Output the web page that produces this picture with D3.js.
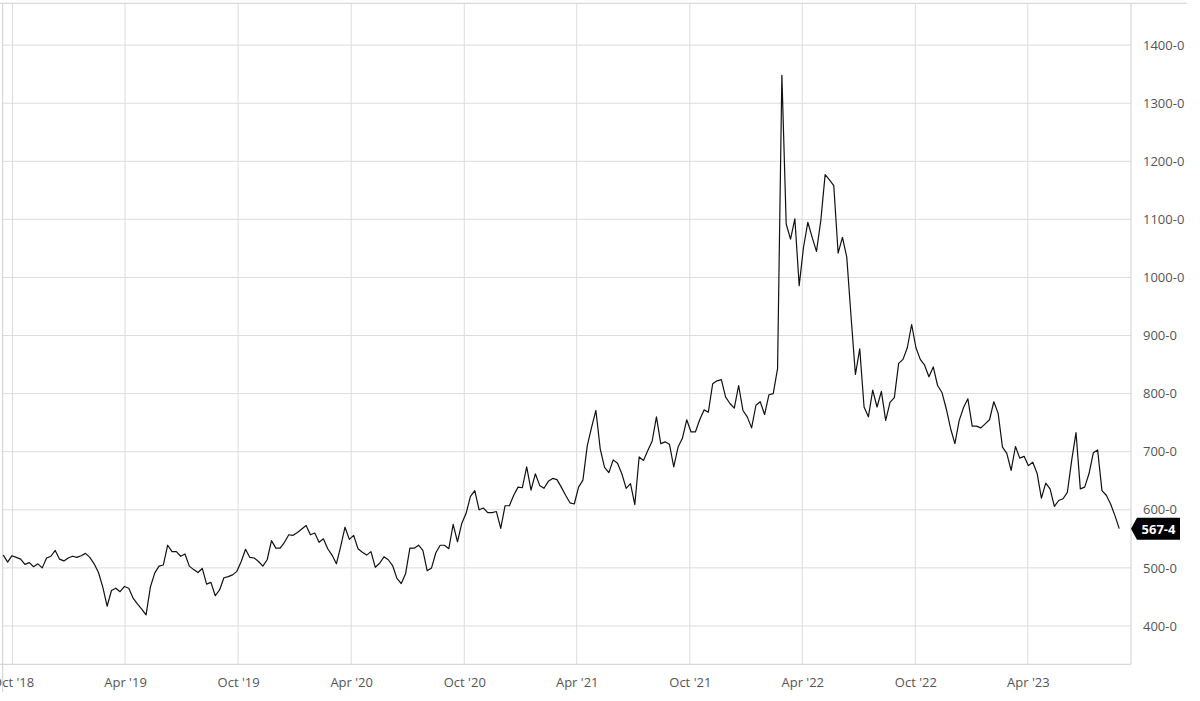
<!DOCTYPE html>
<html><head><meta charset="utf-8">
<script src="https://cdn.jsdelivr.net/npm/d3@7"></script>
<style>
body{margin:0;background:#fff;}
svg{display:block;font-family:"Open Sans",sans-serif;}
</style>
</head><body>
<svg id="chart" width="1200" height="701"></svg>
<script>
// ---- data ----
const firstWeek = "2018-09-16";
const prices = [
522,510,521,518,515,506,509,502,507,500,517,520,530,515,512,517,520,518,521,525,
518,507,492,467,434,461,465,459,468,465,448,438,429,419,467,491,503,505,539,528,
528,520,524,503,497,492,499,472,475,452,462,483,485,488,494,511,532,518,517,511,
503,514,547,534,534,544,557,556,561,567,573,557,560,544,550,533,522,507,537,570,
549,556,533,527,522,528,501,508,519,514,504,482,473,490,534,534,539,530,495,500,
526,539,539,533,575,545,577,594,623,633,600,603,595,595,597,568,607,607,625,639,
638,674,634,662,642,637,649,654,652,639,625,612,610,639,651,710,742,771,705,673,
664,686,680,662,637,645,609,691,685,702,718,760,714,717,713,674,708,723,755,734,
734,755,772,768,817,822,824,794,783,775,814,771,760,741,780,786,764,798,800,843,
1348,1092,1066,1101,986,1052,1095,1069,1045,1098,1177,1168,1158,1042,1069,1035,932,833,877,777,
760,806,777,804,754,785,793,852,859,879,919,879,859,849,829,846,814,802,774,740,
714,754,776,791,744,744,741,748,755,786,766,708,697,668,709,689,692,676,682,663,
620,646,636,606,616,619,630,685,733,636,639,662,698,703,633,625,610,590,567.5
];
const yTicks = [400,500,600,700,800,900,1000,1100,1200,1300,1400];
const xTickDates = ["2018-10-01","2019-04-01","2019-10-01","2020-04-01","2020-10-01",
  "2021-04-01","2021-10-01","2022-04-01","2022-10-01","2023-04-01"];
const xTickLabels = ["Oct '18","Apr '19","Oct '19","Apr '20","Oct '20",
  "Apr '21","Oct '21","Apr '22","Oct '22","Apr '23"];
const lastPriceLabel = "567-4";
const xDomain = ["2018-09-15","2023-09-15"];
const yDomain = [334, 1472];

// ---- layout ----
const parse = d3.utcParse("%Y-%m-%d");
const start = parse(firstWeek);
const series = prices.map((v,i)=>({date:d3.utcDay.offset(start, 7*i), value:v}));

const L = 2.7, R = 1131, T = 3.3, B = 664.3;
const x = d3.scaleUtc().domain(xDomain.map(parse)).range([L, R]);
const y = d3.scaleLinear().domain(yDomain).range([B, T]);

const svg = d3.select("#chart");
const grid = "#dcdcdc";

// horizontal grid
svg.append("g").selectAll("line").data(yTicks).join("line")
  .attr("x1", L).attr("x2", R)
  .attr("y1", d=>y(d)).attr("y2", d=>y(d))
  .attr("stroke", grid).attr("stroke-width", 1);

// vertical grid
const xt = xTickDates.map(parse);
svg.append("g").selectAll("line").data(xt).join("line")
  .attr("x1", d=>x(d)).attr("x2", d=>x(d))
  .attr("y1", T).attr("y2", B)
  .attr("stroke", grid).attr("stroke-width", 1);

// frame
const frame = "#cfcfcf";
svg.append("line").attr("x1",0).attr("x2",1187).attr("y1",T).attr("y2",T).attr("stroke",frame);
svg.append("line").attr("x1",L).attr("x2",L).attr("y1",T).attr("y2",692).attr("stroke",frame);
svg.append("line").attr("x1",R).attr("x2",R).attr("y1",T).attr("y2",B).attr("stroke",frame);
svg.append("line").attr("x1",0).attr("x2",R).attr("y1",B).attr("y2",B).attr("stroke",frame);

// y axis (right) via d3 axis
const yAxis = d3.axisRight(y).tickValues(yTicks).tickSize(0).tickPadding(12)
  .tickFormat(d=>`${d}-0`);
const gy = svg.append("g").attr("transform",`translate(${R},0)`).call(yAxis);
gy.select(".domain").remove();
gy.selectAll("text").attr("fill","#555").style("font-size","13px")
  .style("font-family","'Open Sans',sans-serif");

// x axis
const xAxis = d3.axisBottom(x).tickValues(xt).tickSize(0).tickPadding(13)
  .tickFormat((d,i)=>xTickLabels[i]);
const gx = svg.append("g").attr("transform",`translate(0,${B})`).call(xAxis);
gx.select(".domain").remove();
gx.selectAll("text").attr("fill","#555").style("font-size","13px")
  .style("font-family","'Open Sans',sans-serif");

// price line
const line = d3.line().x(d=>x(d.date)).y(d=>y(d.value));
svg.append("path").datum(series)
  .attr("d", line).attr("fill","none")
  .attr("stroke","#111").attr("stroke-width",1.2).attr("stroke-linejoin","round");

// last price tag
const last = series[series.length-1];
const ly = y(last.value);
const tx = R, h = 22, w = 49, tip = 6;
svg.append("path")
  .attr("d", `M${tx},${ly} L${tx+tip},${ly-h/2} L${tx+w},${ly-h/2} L${tx+w},${ly+h/2} L${tx+tip},${ly+h/2} Z`)
  .attr("fill","#000");
svg.append("text").attr("x", tx+tip+(w-tip)/2).attr("y", ly)
  .attr("text-anchor","middle").attr("dominant-baseline","central")
  .attr("fill","#fff").style("font-size","13px").style("font-weight","700")
  .text(lastPriceLabel);
</script>
</body></html>
